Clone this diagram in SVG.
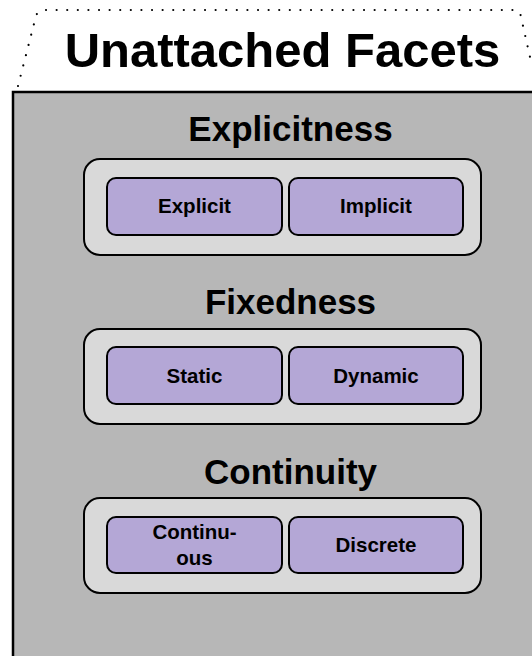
<svg xmlns="http://www.w3.org/2000/svg" width="532" height="656" viewBox="0 0 532 656">
<style>
  .panel{fill:#b7b7b7;stroke:#000;stroke-width:2.5}
  .group{fill:#d9d9d9;stroke:#000;stroke-width:2}
  .facet{fill:#b4a7d6;stroke:#000;stroke-width:2}
  .tab{fill:none;stroke:#000;stroke-width:2.2;stroke-linecap:round;stroke-dasharray:0 10.6}
  text{font-family:"Liberation Sans",Arial,sans-serif;font-weight:bold;fill:#000;text-anchor:middle}
  .title{font-size:49px}
  .head{font-size:35px}
  .lbl{font-size:20.5px}
</style>
<rect width="532" height="656" fill="#fff"/>
<g id="tab">
  <path class="tab" d="M18 86 L36 16 Q38 10 45 10 L514 10 Q520 10 521 17 L532 66"/>
  <text class="title" x="282.5" y="67">Unattached Facets</text>
</g>
<g id="panel">
  <rect class="panel" x="13" y="92" width="540" height="600"/>
</g>
<g id="explicitness">
  <text class="head" x="290.5" y="141">Explicitness</text>
  <rect class="group" x="84" y="159" width="397" height="96" rx="16"/>
  <g id="explicit">
    <rect class="facet" x="107" y="178" width="175" height="57" rx="9"/>
    <text class="lbl" x="194.5" y="213">Explicit</text>
  </g>
  <g id="implicit">
    <rect class="facet" x="289" y="178" width="174" height="57" rx="9"/>
    <text class="lbl" x="376" y="213">Implicit</text>
  </g>
</g>
<g id="fixedness">
  <text class="head" x="290.5" y="314">Fixedness</text>
  <rect class="group" x="84" y="329" width="397" height="95" rx="16"/>
  <g id="static">
    <rect class="facet" x="107" y="347" width="175" height="57" rx="9"/>
    <text class="lbl" x="194.5" y="383">Static</text>
  </g>
  <g id="dynamic">
    <rect class="facet" x="289" y="347" width="174" height="57" rx="9"/>
    <text class="lbl" x="376" y="383">Dynamic</text>
  </g>
</g>
<g id="continuity">
  <text class="head" x="290.5" y="484">Continuity</text>
  <rect class="group" x="84" y="498" width="397" height="95" rx="16"/>
  <g id="continuous">
    <rect class="facet" x="107" y="517" width="175" height="56" rx="9"/>
    <text class="lbl" x="194.5" y="539">Continu-</text>
    <text class="lbl" x="194.5" y="565">ous</text>
  </g>
  <g id="discrete">
    <rect class="facet" x="289" y="517" width="174" height="56" rx="9"/>
    <text class="lbl" x="376" y="552">Discrete</text>
  </g>
</g>
<g id="connectors"/>
</svg>
